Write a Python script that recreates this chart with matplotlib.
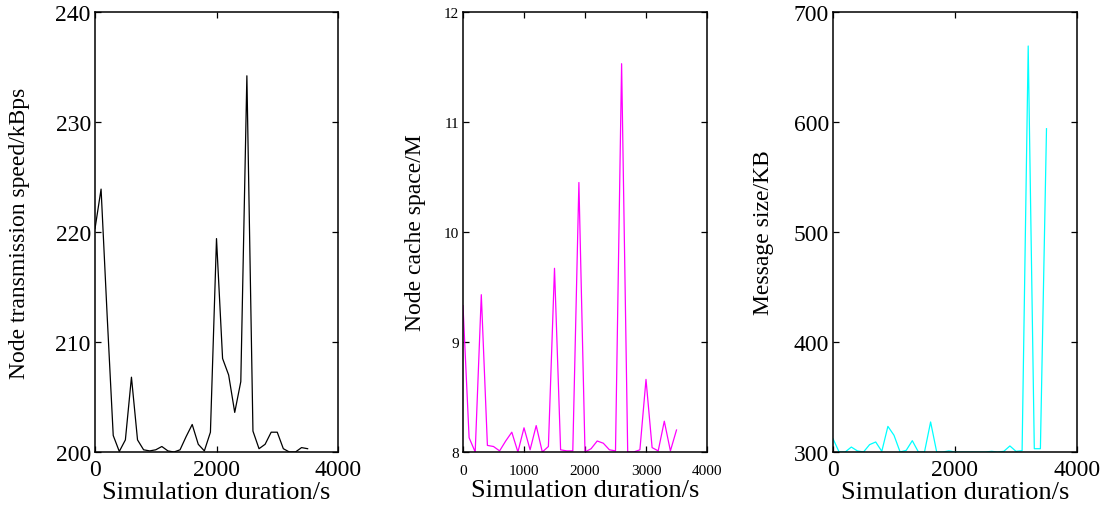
import numpy as np
from matplotlib import pyplot as plt

# simulation time axis, one sample every 100 s
duration = np.arange(0, 3600, 100)

# node transmission speed / kBps
speed = [220.3, 223.9, 212.4, 201.5, 200.05, 201.1, 206.8, 201.1, 200.2, 200.1,
         200.2, 200.5, 200.1, 200.0, 200.2, 201.4, 202.5, 200.7, 200.1, 201.8,
         219.4, 208.5, 207.0, 203.6, 206.4, 234.2, 201.9, 200.3, 200.7, 201.8,
         201.8, 200.3, 200.0, 200.0, 200.4, 200.3]

# node cache space / M
cache = [9.33, 8.13, 8.0, 9.43, 8.06, 8.05, 8.01, 8.10, 8.18, 8.0,
         8.22, 8.02, 8.24, 8.0, 8.05, 9.67, 8.02, 8.01, 8.01, 10.45,
         8.0, 8.03, 8.10, 8.08, 8.02, 8.01, 11.53, 8.0, 8.0, 8.02,
         8.66, 8.04, 8.01, 8.28, 8.01, 8.20]

# message size / KB
msg = [312.1, 300.0, 300.0, 304.5, 301.0, 300.0, 306.7, 309.1, 300.6, 323.3,
       315.2, 300.0, 301.5, 310.3, 300.0, 300.0, 327.3, 300.0, 300.0, 301.0,
       300.0, 300.0, 300.0, 300.0, 300.0, 300.0, 300.6, 300.0, 300.6, 305.5,
       300.6, 301.2, 669.1, 303.0, 303.0, 593.9]

plt.rcParams['font.family'] = ['Liberation Serif', 'DejaVu Serif']

fig = plt.figure(figsize=(11.1, 5.1), dpi=100)
ax1 = fig.add_axes([95 / 1110, 57 / 510, 243 / 1110, 440 / 510])
ax2 = fig.add_axes([463 / 1110, 57 / 510, 244 / 1110, 440 / 510])
ax3 = fig.add_axes([833 / 1110, 57 / 510, 244 / 1110, 440 / 510])

# ax, data, colour, ylabel, ylim, yticks, xticks, tick font size, x tick pad, ylabel x, xlabel y
panels = [
    (ax1, speed, 'black', 'Node transmission speed/kBps', (200, 240), np.arange(200, 241, 10),
     [0, 2000, 4000], 17, 5, -0.31, -0.09),
    (ax2, cache, '#ff00ff', 'Node cache space/M', (8, 12), np.arange(8, 13, 1),
     [0, 1000, 2000, 3000, 4000], 11, 9, -0.195, -0.086),
    (ax3, msg, '#00ffff', 'Message size/KB', (300, 700), np.arange(300, 701, 100),
     [0, 2000, 4000], 17, 5, -0.285, -0.09),
]

for ax, y, col, ylab, ylim, yt, xt, fs, xpad, ylx, xly in panels:
    ax.plot(duration, y, color=col, lw=0.9)
    ax.set_xlim(0, 4000)
    ax.set_ylim(*ylim)
    ax.set_xticks(xt)
    ax.set_yticks(yt)
    ax.tick_params(direction='in', top=True, right=True, length=4, width=0.9,
                   labelsize=fs, pad=3)
    ax.tick_params(axis='x', pad=xpad)
    ax.set_xlabel('Simulation duration/s', fontsize=19, va='center')
    ax.set_ylabel(ylab, fontsize=17, va='center')
    ax.xaxis.set_label_coords(0.5, xly)
    ax.yaxis.set_label_coords(ylx, 0.5)
    for s in ax.spines.values():
        s.set_linewidth(1.1)

fig.savefig('out.png', dpi=100)
